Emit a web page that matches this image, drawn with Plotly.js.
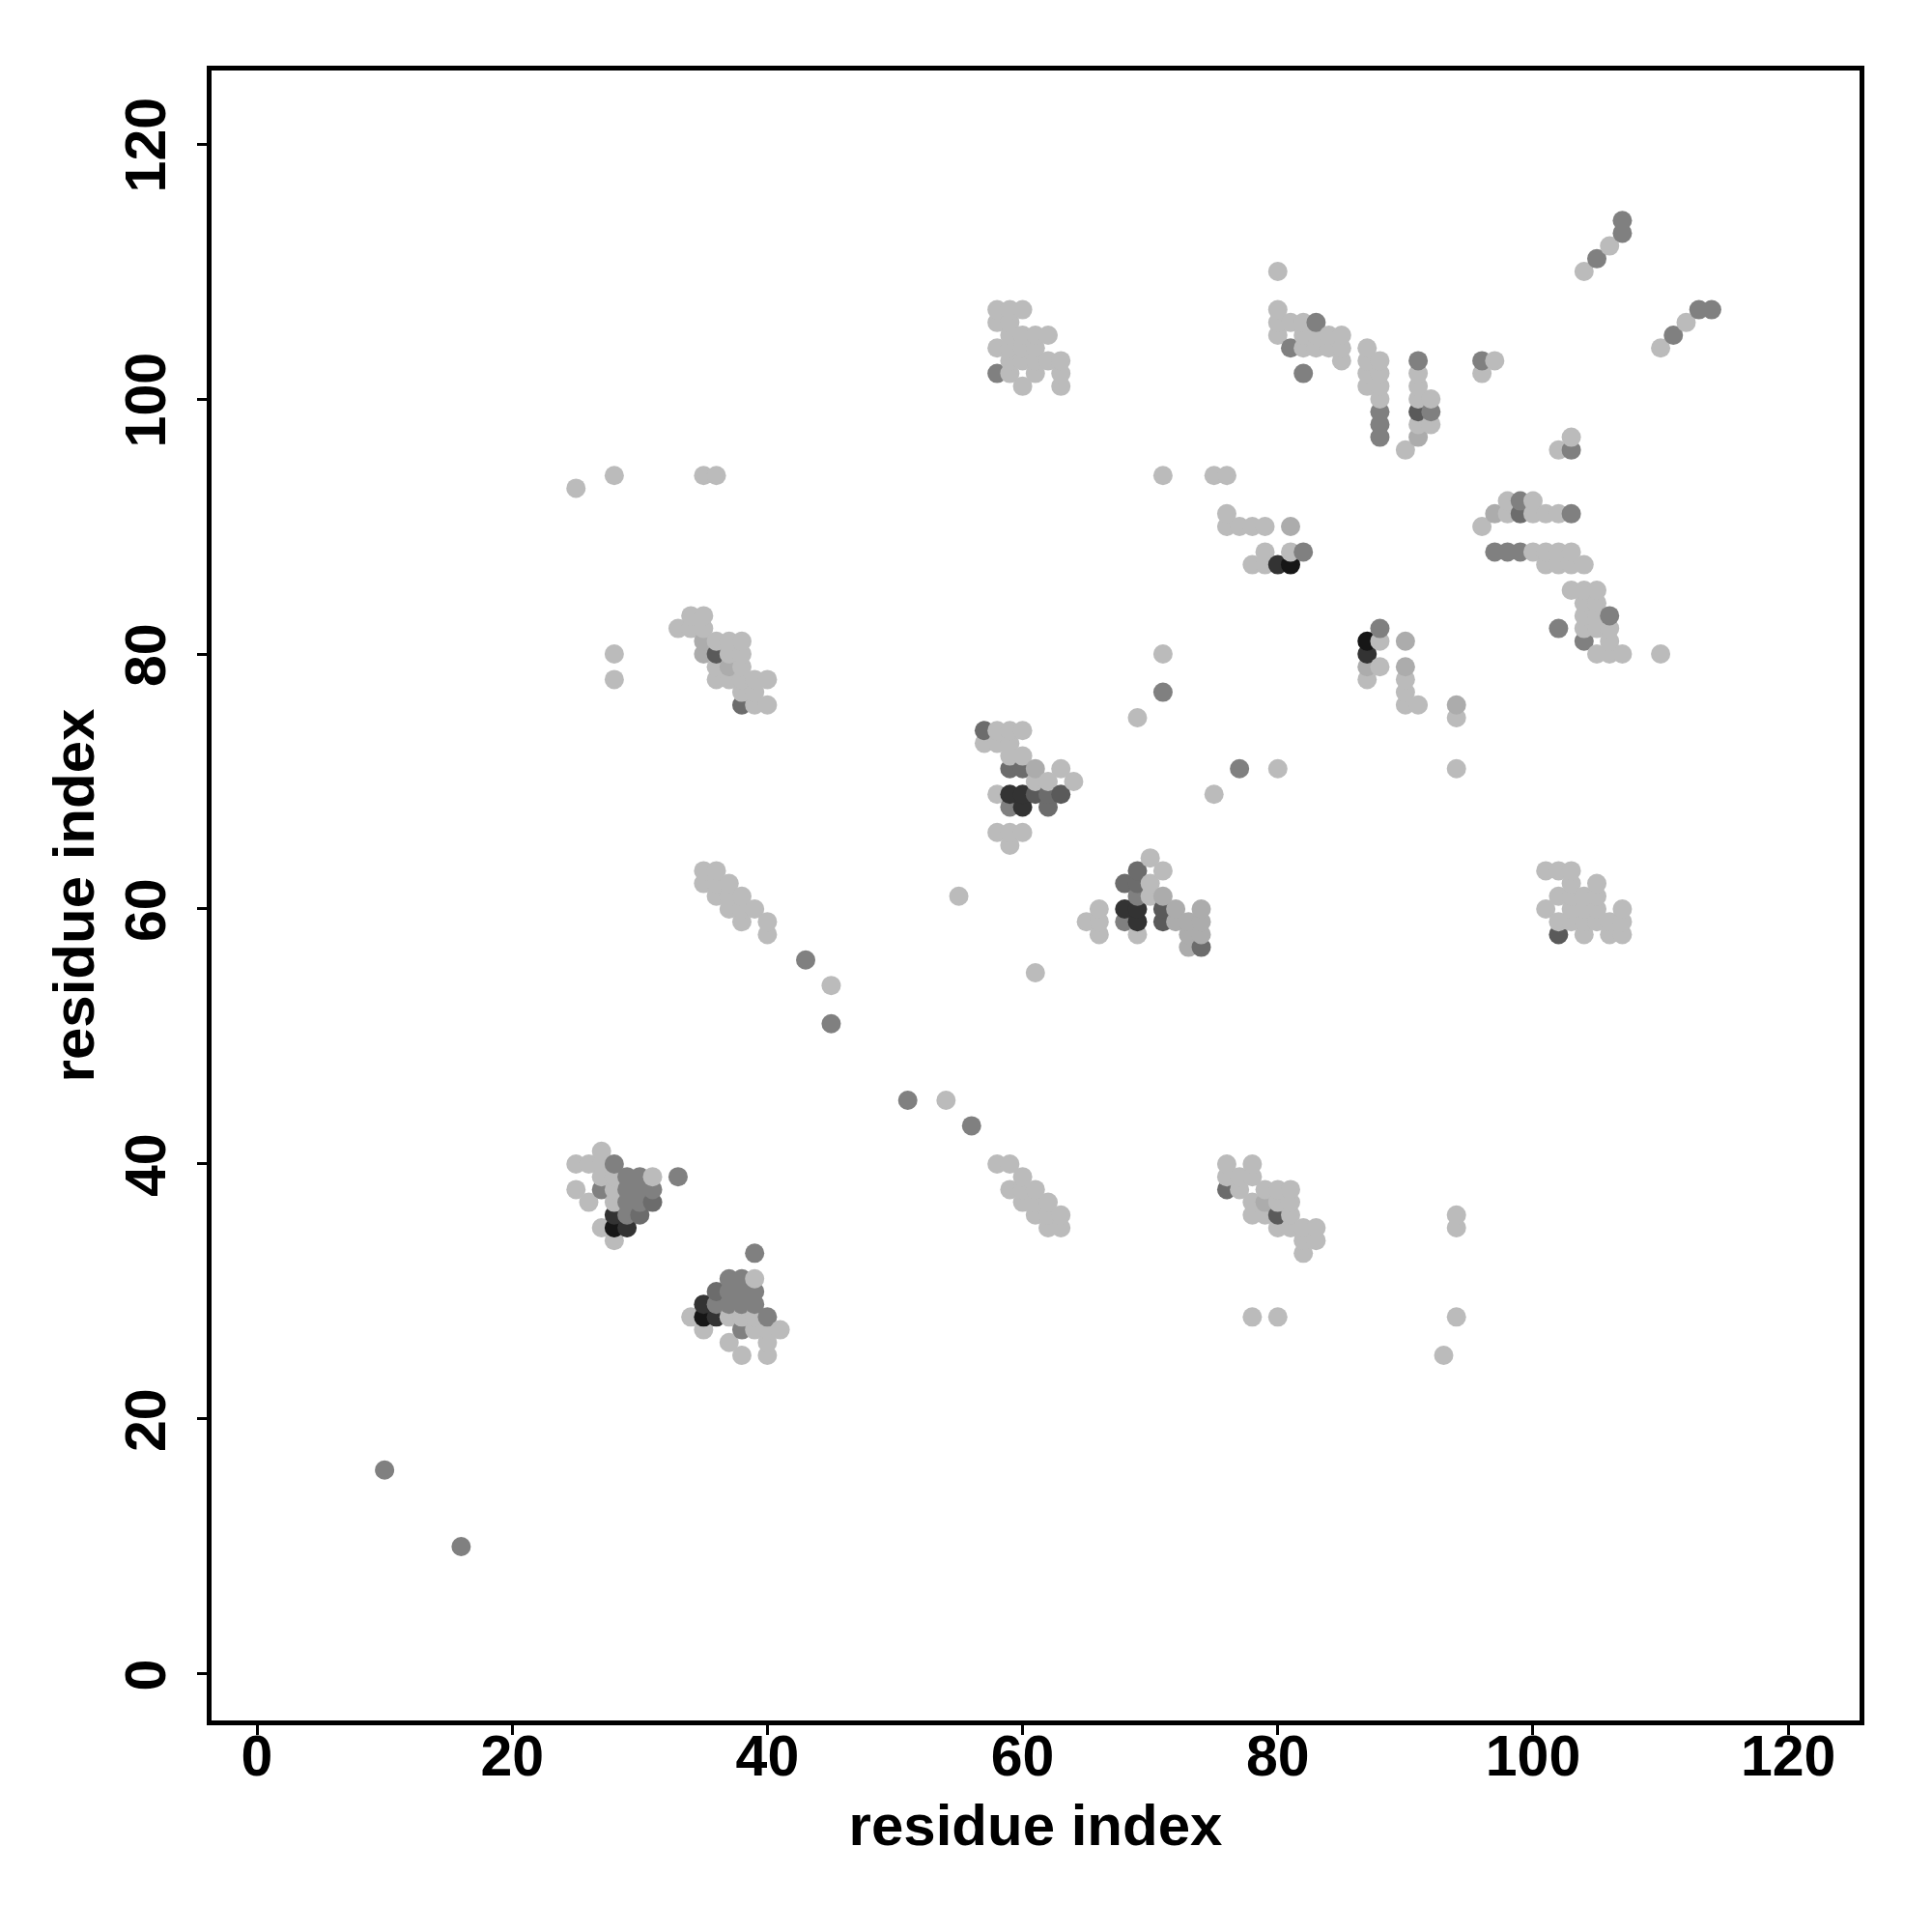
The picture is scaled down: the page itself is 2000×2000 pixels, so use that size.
<!DOCTYPE html>
<html>
<head>
<meta charset="utf-8">
<script src="https://cdn.plot.ly/plotly-3.0.1.min.js"></script>
<style>html,body{margin:0;padding:0;background:#fff}</style>
</head>
<body>
<div id="chart" style="width:2000px;height:2000px"></div>
<script>
const lightX = [
  27,25,26,27,27,28,31,25,28,26,28,27,28,
  39,34,37,38,39,35,39,40,41,37,40,38,40,
  34,35,33,34,35,36,37,38,37,38,36,38,36,37,38,39,40,38,39,39,40,
  35,36,35,36,37,36,37,38,37,38,39,38,40,40,
  58,59,60,59,60,61,60,61,62,61,62,63,62,63,
  76,78,76,77,78,77,79,80,81,78,80,81,78,79,81,80,81,82,83,82,83,82,
  58,59,60,57,58,59,59,60,63,61,62,64,58,58,59,60,59,
  70,71,70,70,66,65,66,66,69,
  58,59,60,58,59,59,60,61,62,58,59,60,61,59,60,61,62,63,59,61,63,60,63,
  80,80,81,82,80,82,83,84,85,82,83,84,85,85,80,
  87,87,88,87,88,87,88,88,91,91,91,92,91,92,90,
  98,100,98,100,101,102,96,100,101,102,103,101,102,103,104,
  103,104,105,104,105,104,105,104,105,106,106,105,106,107,110,
  101,102,103,103,105,102,103,104,105,101,103,104,105,107,102,103,104,105,106,107,104,106,107,
  88,88,87,90,90,90,91,94,
  25,28,35,36,28,28,55,61,45,54,71,75,76,76,76,77,78,79,78,79,79,81,71,69,80,75,94,102,103,97,96,104,106,110,112,94,94,94,93,78,80
];
const lightY = [
  41,40,40,40,39,39,39,38,38,37,37,35,34,
  31,28,28,28,28,27,27,27,27,26,26,25,25,
  83,83,82,82,82,81,81,81,80,80,79,79,78,78,78,78,78,77,77,76,76,
  63,63,62,62,62,61,61,61,60,60,60,59,59,58,
  40,40,39,38,38,38,37,37,37,36,36,36,35,35,
  40,40,39,39,39,38,38,38,38,37,37,37,36,36,36,35,35,35,35,34,34,33,
  74,74,74,73,73,73,72,72,71,70,70,70,69,66,66,66,65,
  64,63,62,61,60,59,59,58,58,
  107,107,107,106,106,105,105,105,105,104,104,104,104,103,103,103,103,103,102,102,102,101,101,
  107,106,106,106,105,105,105,105,105,104,104,104,104,103,110,
  104,103,103,102,102,101,101,100,102,101,100,100,98,98,96,
  92,92,91,91,91,91,90,88,88,88,88,87,87,87,87,
  85,85,85,84,84,83,83,82,82,82,81,80,80,80,80,
  63,63,63,62,62,61,61,61,61,60,60,60,60,60,59,59,59,59,59,59,58,58,58,
  81,79,78,78,77,76,76,75,
  93,94,94,94,80,78,61,55,54,45,94,94,94,91,90,90,90,90,87,87,88,88,80,75,71,69,71,96,97,103,102,110,112,104,106,36,35,28,25,28,28
];
const softX = [35,35,37,79,61,71,72,74,72,73,74,73,74,73,81,97,91,90,90,94,87];
const softY = [81,80,79,37,71,61,60,60,59,59,59,58,58,57,90,91,97,81,79,76,79];
const midX = [
  10,16,43,45,51,56,71,77,82,103,96,105,107,107,111,113,114,
  28,29,30,33,27,29,30,31,29,30,29,
  39,37,38,37,38,39,36,37,38,39,40,38,
  59,69,68,83,81,82,58,88,88,88,91,92,99,103,97,98,99,106,102,104,88
];
const midY = [
  16,10,56,51,45,43,77,71,88,96,103,111,113,114,105,107,107,
  40,39,39,39,38,38,38,38,37,37,36,
  33,31,31,30,30,30,29,29,29,29,28,27,
  68,61,59,106,104,102,102,99,98,97,103,99,92,91,88,88,88,83,82,81,82
];
const midDarkX = [57,62,68,69,69,59,60,62,74,36,30,31,99,38,76];
const midDarkY = [74,68,62,63,62,71,71,69,57,30,36,37,91,76,38];
const charcoalX = [71,71,63,80,36,61,91,102];
const charcoalY = [60,59,69,36,80,69,99,58];
const darkX = [69,60,28,29,36,35,68,60,69,59,80,87];
const darkY = [60,69,36,35,28,29,60,68,59,69,87,80];
const blackX = [28,35,81,87];
const blackY = [35,28,87,81];

const tickValues = [0,20,40,60,80,100,120];
const axisLabel = "residue index";

const groups = [
  [lightX, lightY, "#bbbbbb"],
  [softX, softY, "#acacac"],
  [midX, midY, "#808080"],
  [midDarkX, midDarkY, "#6c6c6c"],
  [charcoalX, charcoalY, "#5a5a5a"],
  [darkX, darkY, "#333333"],
  [blackX, blackY, "#161616"]
];
const pts = [];
groups.forEach(([xs, ys, c]) => xs.forEach((x, i) => pts.push({x, y: ys[i], c})));
pts.sort((a, b) => a.x - b.x || a.y - b.y);

const tickFont = {family: "Liberation Sans, Arial, sans-serif", size: 59, color: "#000", weight: 700};
const titleFont = {family: "Liberation Sans, Arial, sans-serif", size: 60, color: "#000", weight: 700};
const axisBase = {
  tickmode: "array", tickvals: tickValues, ticktext: tickValues.map(String),
  showgrid: false, zeroline: false, showline: true, mirror: true,
  linecolor: "#000", linewidth: 5, ticks: "outside", ticklen: 10, tickwidth: 3, tickcolor: "#000",
  tickfont: tickFont, automargin: false
};
Plotly.newPlot("chart", [{
  type: "scatter", mode: "markers",
  x: pts.map(p => p.x), y: pts.map(p => p.y),
  marker: {size: 20, color: pts.map(p => p.c), line: {width: 0}},
  hoverinfo: "x+y"
}], {
  width: 2000, height: 2000, showlegend: false,
  paper_bgcolor: "#fff", plot_bgcolor: "#fff",
  margin: {l: 219, r: 75, t: 73, b: 219, pad: 0},
  xaxis: Object.assign({}, axisBase, {range: [-3.56, 125.59], ticklabelstandoff: -29, title: {text: axisLabel, font: titleFont, standoff: 20}}),
  yaxis: Object.assign({}, axisBase, {range: [-3.64, 125.76], tickangle: -90, ticklabelstandoff: 9, title: {text: axisLabel, font: titleFont, standoff: 3}})
}, {displayModeBar: false, staticPlot: true}).then(() => {
  document.querySelectorAll("#chart .ytick text").forEach(t => t.setAttribute("dx", "-10"));
});
</script>
</body>
</html>
